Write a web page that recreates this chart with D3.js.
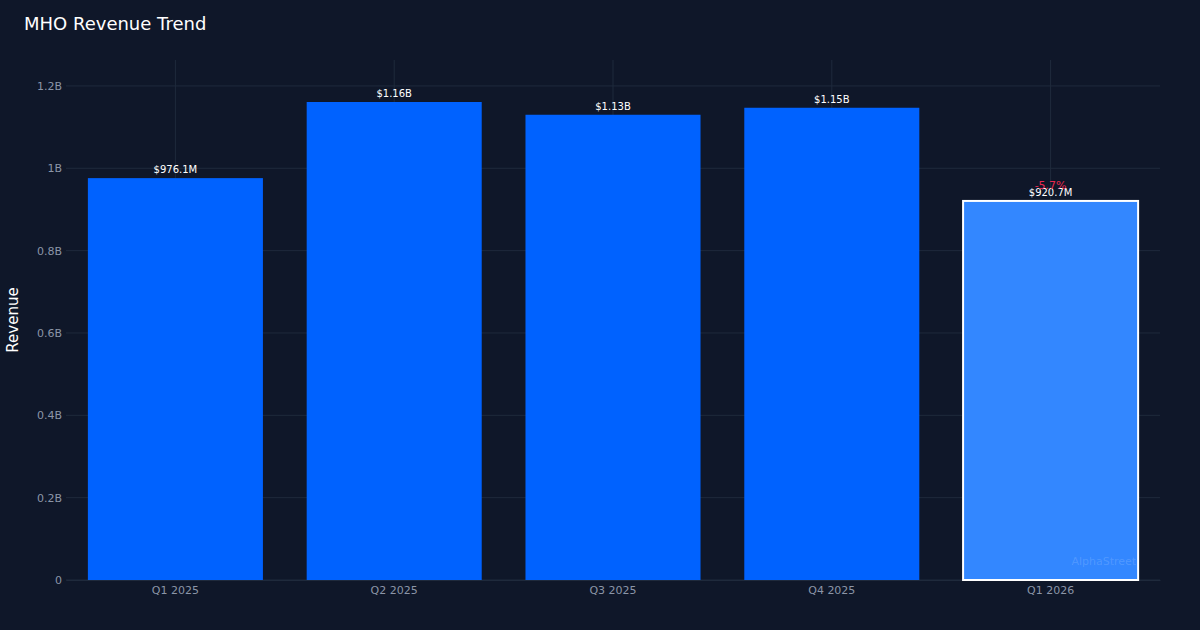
<!DOCTYPE html>
<html>
<head>
<meta charset="utf-8">
<script src="https://cdn.jsdelivr.net/npm/d3@7"></script>
<style>
  body { margin: 0; background: #0f1729; }
  svg { display: block; font-family: "DejaVu Sans", sans-serif; }
</style>
</head>
<body>
<svg id="chart" width="1200" height="630"></svg>
<script>
const quarters = ["Q1 2025", "Q2 2025", "Q3 2025", "Q4 2025", "Q1 2026"];
const revenue = [976.1e6, 1161e6, 1130e6, 1147e6, 920.7e6];
const valueLabels = ["$976.1M", "$1.16B", "$1.13B", "$1.15B", "$920.7M"];
const yTicks = [0, 0.2e9, 0.4e9, 0.6e9, 0.8e9, 1e9, 1.2e9];
const yTickLabels = ["0", "0.2B", "0.4B", "0.6B", "0.8B", "1B", "1.2B"];
const changeLabel = "-5.7%";

const width = 1200, height = 630;
const margin = {top: 60, right: 40, bottom: 50, left: 66};
const font = "DejaVu Sans, sans-serif";
const svg = d3.select("#chart");

svg.append("rect").attr("width", width).attr("height", height).attr("fill", "#0f1729");

const x = d3.scaleBand()
    .domain(quarters)
    .range([margin.left, width - margin.right])
    .paddingInner(0.2)
    .paddingOuter(0.1);

const y = d3.scaleLinear()
    .domain([0, 1.263e9])
    .range([height - margin.bottom, margin.top]);

// grid
svg.append("g").selectAll("line.h")
    .data(yTicks).join("line")
    .attr("x1", margin.left).attr("x2", width - margin.right)
    .attr("y1", d => y(d)).attr("y2", d => y(d))
    .attr("stroke", "#1f2a3c").attr("stroke-width", 1);

svg.append("g").selectAll("line.v")
    .data(quarters).join("line")
    .attr("x1", d => x(d) + x.bandwidth() / 2).attr("x2", d => x(d) + x.bandwidth() / 2)
    .attr("y1", margin.top).attr("y2", height - margin.bottom)
    .attr("stroke", "#1f2a3c").attr("stroke-width", 1);

// axes
const yAxis = d3.axisLeft(y).tickValues(yTicks)
    .tickFormat((d, i) => yTickLabels[i]).tickSize(0).tickPadding(4);
svg.append("g")
    .attr("transform", `translate(${margin.left},0)`)
    .call(yAxis)
    .attr("font-family", font)
    .call(g => g.select(".domain").remove())
    .selectAll("text").attr("fill", "#8b95a7").attr("font-size", 11);

const xAxis = d3.axisBottom(x).tickSize(0).tickPadding(6);
svg.append("g")
    .attr("transform", `translate(0,${height - margin.bottom})`)
    .call(xAxis)
    .attr("font-family", font)
    .call(g => g.select(".domain").attr("stroke", "#1f2a3c"))
    .selectAll("text").attr("fill", "#8b95a7").attr("font-size", 11);

// bars
const last = quarters.length - 1;
svg.append("g").selectAll("rect")
    .data(quarters).join("rect")
    .attr("x", d => x(d))
    .attr("width", x.bandwidth())
    .attr("y", (d, i) => y(revenue[i]))
    .attr("height", (d, i) => y(0) - y(revenue[i]))
    .attr("fill", (d, i) => i === last ? "#3387ff" : "#0062ff")
    .attr("stroke", (d, i) => i === last ? "#ffffff" : "none")
    .attr("stroke-width", 2);

// value labels
svg.append("g").selectAll("text")
    .data(quarters).join("text")
    .attr("x", d => x(d) + x.bandwidth() / 2)
    .attr("y", (d, i) => y(revenue[i]) - 5)
    .attr("text-anchor", "middle")
    .attr("font-size", 10)
    .attr("fill", "#ffffff")
    .text((d, i) => valueLabels[i]);

// change label (sits just above the value label, as in the source)
svg.append("text")
    .attr("x", x(quarters[last]) + x.bandwidth() / 2)
    .attr("y", y(revenue[last]) - 12)
    .attr("text-anchor", "middle")
    .attr("font-size", 11)
    .attr("fill", "#e8294f")
    .text(changeLabel);

// watermark
svg.append("text")
    .attr("x", x(quarters[last]) + x.bandwidth() - 2)
    .attr("y", height - margin.bottom - 15)
    .attr("text-anchor", "end")
    .attr("font-size", 11)
    .attr("fill", "#ffffff")
    .attr("fill-opacity", 0.15)
    .text("AlphaStreet");

// titles
svg.append("text")
    .attr("x", 24).attr("y", 30)
    .attr("font-size", 18)
    .attr("fill", "#ffffff")
    .text("MHO Revenue Trend");

svg.append("text")
    .attr("transform", `translate(18,${(margin.top + height - margin.bottom) / 2}) rotate(-90)`)
    .attr("text-anchor", "middle")
    .attr("font-size", 15)
    .attr("fill", "#ffffff")
    .text("Revenue");
</script>
</body>
</html>
